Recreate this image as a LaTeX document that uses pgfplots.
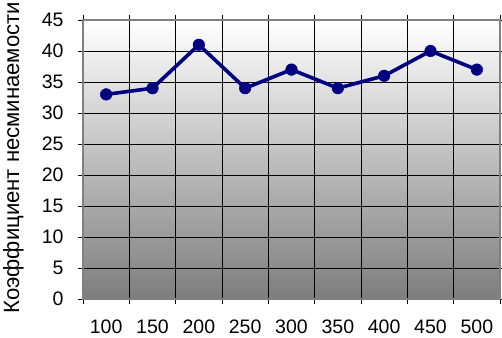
\documentclass[border=0pt]{standalone}
\usepackage{fontspec}
\setmainfont{Liberation Sans}
\usepackage{pgfplots}
\pgfplotsset{compat=1.18}
\definecolor{bgbot}{RGB}{125,125,125}
\definecolor{navyline}{RGB}{0,0,128}
\begin{document}
\begin{tikzpicture}[x=1pt,y=1pt]
\begin{axis}[
 at={(83pt,38pt)}, anchor=south west,
 scale only axis, width=417pt, height=279pt,
 xmin=-0.5, xmax=8.5, ymin=0, ymax=45,
 xtick={-0.5,0.5,...,8.5}, xticklabels={},
 extra x ticks={0,1,2,3,4,5,6,7,8},
 extra x tick labels={100,150,200,250,300,350,400,450,500},
 extra x tick style={major tick length=0pt, grid=none},
 ytick={0,5,...,45},
 grid=major, major grid style={black, line width=0.6pt},
 tick align=outside, major tick length=5pt, tick style={black, line width=0.6pt},
 axis line style={gray, line width=1.2pt},
 axis background/.style={shade, top color=white, bottom color=bgbot},
 tick label style={font=\fontsize{19.5}{22}\selectfont},
 /pgf/number format/assume math mode=true,
 yticklabel style={xshift=-11pt},
 xticklabel style={yshift=-17pt},
 clip=false,
]
\addplot[color=navyline, line width=3.6pt, mark=*, mark size=5.8pt, mark options={line width=0.5pt}] coordinates {(0,33)(1,34)(2,41)(3,34)(4,37)(5,34)(6,36)(7,40)(8,37)};
\end{axis}
\node[rotate=90, anchor=base west, font=\fontsize{22.1}{26}\selectfont, inner sep=0pt] at (19pt,23pt) {Коэффициент несминаемости};
\pgfresetboundingbox
\path (0,0) rectangle (502pt,337pt);
\end{tikzpicture}
\end{document}
